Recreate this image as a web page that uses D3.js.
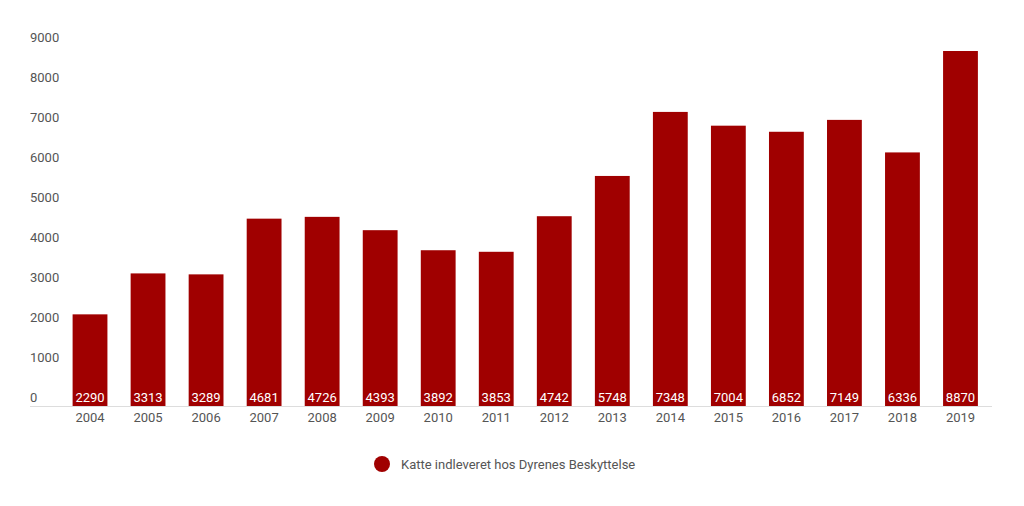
<!DOCTYPE html>
<html><head><meta charset="utf-8">
<script src="https://cdn.jsdelivr.net/npm/d3@7"></script>
<style>body{margin:0;background:#fff;}svg{display:block;font-family:Roboto,sans-serif;}</style>
</head><body>
<svg id="c" width="1024" height="506"></svg>
<script>
const years = ["2004","2005","2006","2007","2008","2009","2010","2011","2012","2013","2014","2015","2016","2017","2018","2019"];
const values = [2290,3313,3289,4681,4726,4393,3892,3853,4742,5748,7348,7004,6852,7149,6336,8870];
const yTicks = [0,1000,2000,3000,4000,5000,6000,7000,8000,9000];
const seriesName = "Katte indleveret hos Dyrenes Beskyttelse";

const svg = d3.select("#c");
const color = "#a00000";
const fs = 13;
const x = d3.scaleBand().domain(years).range([61, 989.5]).paddingInner(0.4).paddingOuter(0.2);
const y = d3.scaleLinear().domain([0, 9000]).range([406, 45.8]);

// y tick labels (above their gridline, left aligned)
svg.append("g").selectAll("text").data(yTicks).join("text")
  .attr("x", 30).attr("y", d => y(d) - 4)
  .attr("fill", "#555").attr("font-size", fs)
  .text(d => d);

// baseline
svg.append("line").attr("x1", 30).attr("x2", 992).attr("y1", y(0) + 0.5).attr("y2", y(0) + 0.5)
  .attr("stroke", "#ddd").attr("stroke-width", 1);

// bars
svg.append("g").selectAll("rect").data(values).join("rect")
  .attr("x", (d, i) => x(years[i])).attr("width", x.bandwidth())
  .attr("y", d => y(d)).attr("height", d => y(0) - y(d))
  .attr("fill", color);

// value labels
svg.append("g").selectAll("text").data(values).join("text")
  .attr("x", (d, i) => x(years[i]) + x.bandwidth() / 2).attr("y", y(0) - 4.5)
  .attr("text-anchor", "middle").attr("fill", "#fff").attr("font-size", fs)
  .text(d => d);

// x axis labels
const xAxis = d3.axisBottom(x).tickSize(0).tickPadding(7);
const gx = svg.append("g").attr("transform", `translate(0,${y(0)})`).call(xAxis);
gx.select(".domain").remove();
gx.selectAll("text").attr("fill", "#555").attr("font-size", fs).attr("font-family", "Roboto,sans-serif");

// legend
svg.append("circle").attr("cx", 382).attr("cy", 464).attr("r", 8).attr("fill", color);
svg.append("text").attr("x", 401).attr("y", 464).attr("dy", "0.35em")
  .attr("fill", "#555").attr("font-size", fs).text(seriesName);
</script>
</body></html>
